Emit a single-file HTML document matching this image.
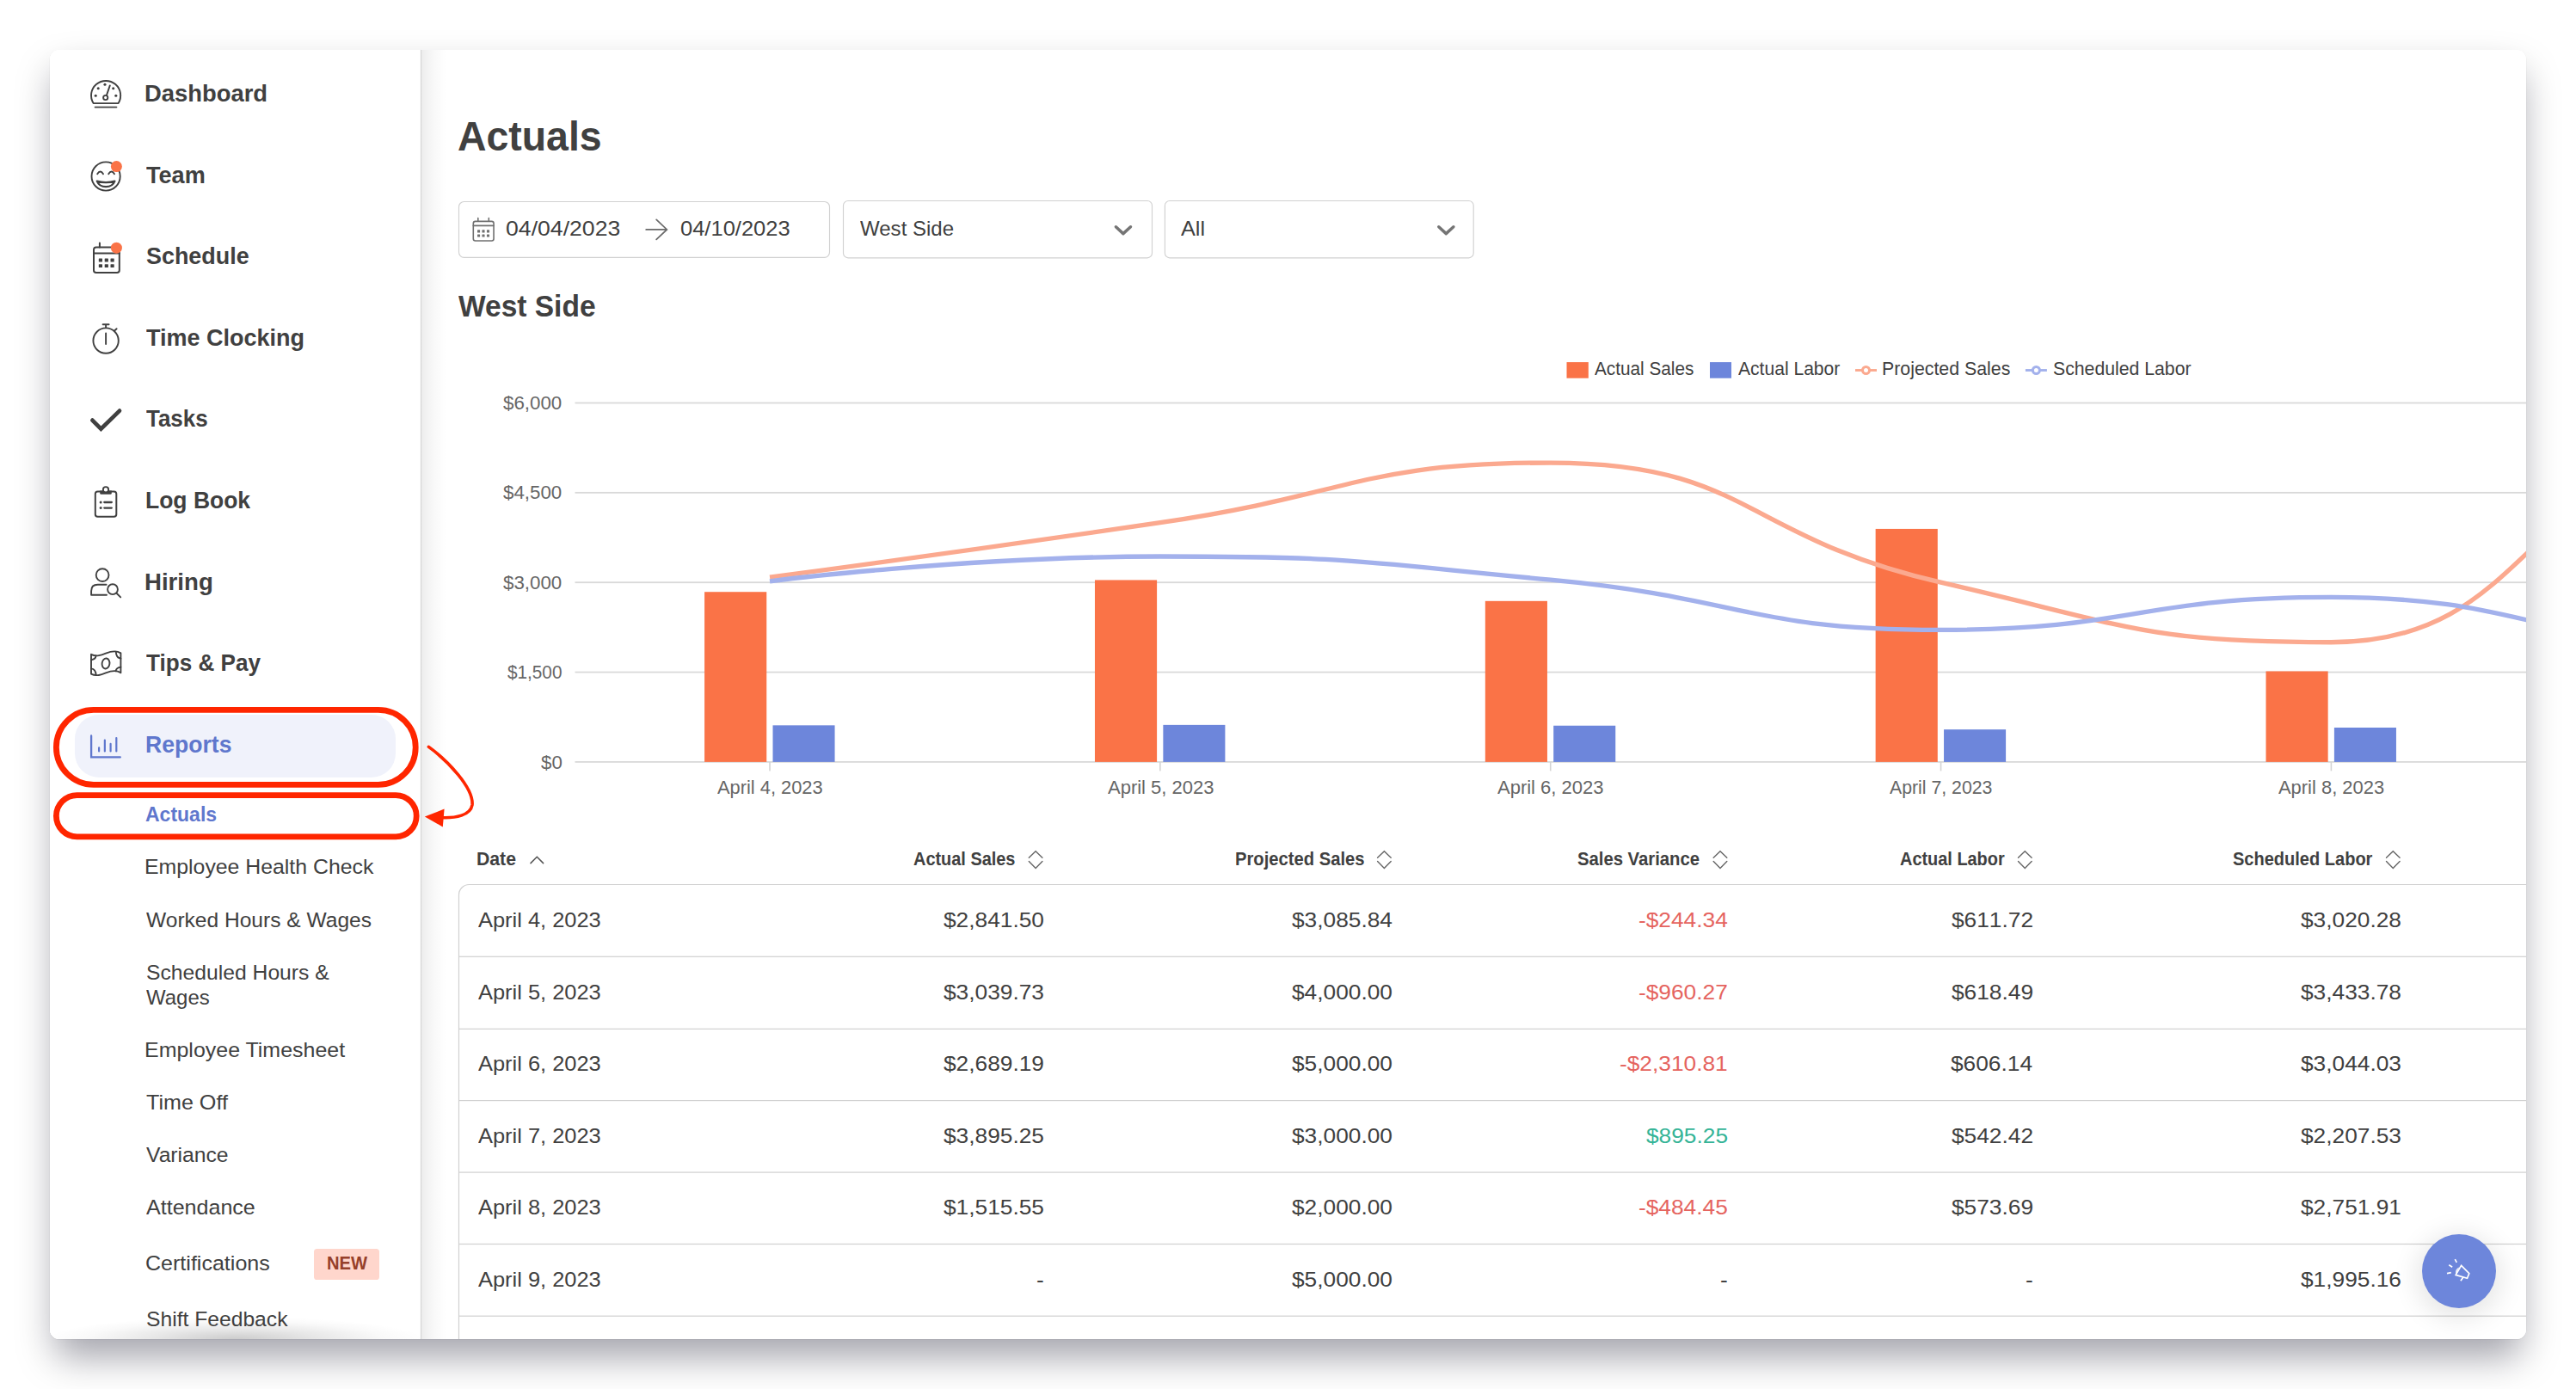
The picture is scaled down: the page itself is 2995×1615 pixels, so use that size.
<!DOCTYPE html><html lang="en"><head><meta charset="utf-8"><title>Actuals</title><style>
html,body{margin:0;padding:0}
body{width:2995px;height:1615px;background:#fff;position:relative;overflow:hidden;font-family:"Liberation Sans",sans-serif;color:#404040}
.shadow{position:absolute;left:64px;top:62px;width:2867px;height:1494.6px;border-radius:11px;background:#fff;
 box-shadow:0 21px 44px rgba(0,4,26,.36)}
.edge{position:absolute;left:58px;top:58px;width:2879px;height:1498.6px;border-radius:11px;background:#fff;box-shadow:0 .5px 0 .5px rgba(0,0,20,.05)}
.win{position:absolute;left:58px;top:58px;width:2879px;height:1498.6px;border-radius:11px;overflow:hidden;background:#fff}
.page{position:absolute;left:-58px;top:-58px;width:2995px;height:1615px}
.t{position:absolute;white-space:nowrap;line-height:1em;transform-origin:0 0;display:block}
.abs{position:absolute}
.side{left:58px;top:58px;width:431px;height:1499px;background:#fff}
.mainsh{left:490px;top:58px;width:30px;height:1499px;background:linear-gradient(to right,rgba(0,0,0,.072),rgba(0,0,0,.046) 24%,rgba(0,0,0,.022) 52%,rgba(0,0,0,.008) 80%,rgba(0,0,0,0))}
.sidebot{left:58px;top:1531px;width:431px;height:26px;background:radial-gradient(ellipse 51% 100% at 50% 100%,rgba(0,0,0,.20),rgba(0,0,0,.09) 45%,rgba(0,0,0,.025) 78%,rgba(0,0,0,0) 100%)}
.pill{left:87.2px;top:831px;width:372.8px;height:72.8px;border-radius:28px;background:#f0f2fb}
.badge{left:364.9px;top:1452px;width:76.2px;height:35.9px;border-radius:3.6px;background:#ffd6cc}
.fab{left:2815.8px;top:1435px;width:86.4px;height:86.4px;border-radius:50%;background:#6d86db;box-shadow:0 6px 30px 6px rgba(0,0,0,.10)}
</style></head><body>
<div class="shadow"></div><div class="edge"></div><div class="win"><div class="page">
<div class="abs mainsh"></div>
<div class="abs side"></div>
<svg class="abs" style="left:0;top:0" width="2995" height="1615"><rect x="488.9" y="58" width="1.25" height="1499" fill="#d7d7d7"/></svg>
<div class="abs sidebot"></div>
<div class="abs pill"></div>
<div class="abs badge"></div>
<svg class="chart" width="2995" height="1615" viewBox="0 0 2995 1615" style="position:absolute;left:0;top:0">
<rect x="668.5" y="885.00" width="3200" height="1.8" fill="#d9d9d9"/>
<rect x="668.5" y="780.65" width="3200" height="1.8" fill="#d9d9d9"/>
<rect x="668.5" y="676.30" width="3200" height="1.8" fill="#d9d9d9"/>
<rect x="668.5" y="571.95" width="3200" height="1.8" fill="#d9d9d9"/>
<rect x="668.5" y="467.60" width="3200" height="1.8" fill="#d9d9d9"/>
<rect x="894.20" y="885.90" width="1.6" height="10.5" fill="#d4d4d4"/>
<rect x="1348.05" y="885.90" width="1.6" height="10.5" fill="#d4d4d4"/>
<rect x="1801.90" y="885.90" width="1.6" height="10.5" fill="#d4d4d4"/>
<rect x="2255.75" y="885.90" width="1.6" height="10.5" fill="#d4d4d4"/>
<rect x="2709.60" y="885.90" width="1.6" height="10.5" fill="#d4d4d4"/>
<rect x="3163.45" y="885.90" width="1.6" height="10.5" fill="#d4d4d4"/>
<rect x="3617.30" y="885.90" width="1.6" height="10.5" fill="#d4d4d4"/>
<rect x="819.10" y="688.23" width="72.15" height="197.67" fill="#fa7347"/>
<rect x="1272.95" y="674.44" width="72.15" height="211.46" fill="#fa7347"/>
<rect x="1726.80" y="698.82" width="72.15" height="187.08" fill="#fa7347"/>
<rect x="2180.65" y="614.92" width="72.15" height="270.98" fill="#fa7347"/>
<rect x="2634.50" y="780.47" width="72.15" height="105.43" fill="#fa7347"/>
<rect x="898.50" y="843.34" width="72.05" height="42.56" fill="#6d86db"/>
<rect x="1352.35" y="842.87" width="72.05" height="43.03" fill="#6d86db"/>
<rect x="1806.20" y="843.73" width="72.05" height="42.17" fill="#6d86db"/>
<rect x="2260.05" y="848.17" width="72.05" height="37.73" fill="#6d86db"/>
<rect x="2713.90" y="845.99" width="72.05" height="39.91" fill="#6d86db"/>
<path d="M895.00,671.23C895.00,671.23 1122.14,640.89 1348.85,607.63C1575.99,574.31 1579.55,538.07 1802.70,538.07C2033.40,538.07 2025.85,624.16 2256.55,677.20C2479.70,728.51 2493.03,746.77 2710.40,746.77C2946.88,746.77 2931.54,538.07 3164.25,538.07C3385.39,538.07 3618.10,677.20 3618.10,677.20" fill="none" stroke="#fba98f" stroke-width="5.3" stroke-linejoin="round"/>
<path d="M895.00,675.79C895.00,675.79 1121.90,647.02 1348.85,647.02C1575.75,647.02 1576.50,652.88 1802.70,674.14C2030.35,695.53 2029.09,732.33 2256.55,732.33C2482.94,732.33 2483.84,694.46 2710.40,694.46C2937.69,694.46 2936.84,747.10 3164.25,747.10C3390.69,747.10 3618.10,715.46 3618.10,715.46" fill="none" stroke="#a3b1ec" stroke-width="5.3" stroke-linejoin="round"/>
<path d="M3400,1028.5H545.5A12,12 0 0 0 533.5,1040.5V1700" fill="none" stroke="#d0d0d0" stroke-width="1.2"/>
<rect x="534" y="1111.70" width="2900" height="1.2" fill="#d0d0d0"/>
<rect x="534" y="1195.80" width="2900" height="1.2" fill="#d0d0d0"/>
<rect x="534" y="1279.00" width="2900" height="1.2" fill="#d0d0d0"/>
<rect x="534" y="1362.50" width="2900" height="1.2" fill="#d0d0d0"/>
<rect x="534" y="1445.90" width="2900" height="1.2" fill="#d0d0d0"/>
<rect x="534" y="1529.60" width="2900" height="1.2" fill="#d0d0d0"/>
<rect x="1821.5" y="421.1" width="25.3" height="18.6" fill="#fa7347"/>
<rect x="1988" y="421.1" width="25" height="18.6" fill="#6d86db"/>
<path d="M2157.0,430.5H2182.0" stroke="#fba98f" stroke-width="2.9"/>
<circle cx="2169.5" cy="430.5" r="4" fill="#fff" stroke="#fba98f" stroke-width="3"/>
<path d="M2354.9,430.5H2379.9" stroke="#a3b1ec" stroke-width="2.9"/>
<circle cx="2367.4" cy="430.5" r="4" fill="#fff" stroke="#a3b1ec" stroke-width="3"/>
</svg>
<svg width="2995" height="1615" viewBox="0 0 2995 1615" style="position:absolute;left:0;top:0" fill="none" stroke-linecap="round" stroke-linejoin="round">
<g stroke="#404040" stroke-width="1.9">
<path d="M108.6,120.1 A17.1,17.1 0 1 1 137.6,120.1 Z"/>
<path d="M110.6,124.6H135.4"/>
<circle cx="122.7" cy="113.5" r="2.6"/>
<path d="M123.9,110.9L127.8,99.4"/>
</g>
<g fill="#404040"><circle cx="111.2" cy="111.3" r="1.55"/><circle cx="114.2" cy="102.8" r="1.55"/><circle cx="122.0" cy="98.2" r="1.55"/><circle cx="131.7" cy="102.8" r="1.55"/><circle cx="134.8" cy="111.3" r="1.55"/></g>
<g stroke="#404040" stroke-width="1.9">
<circle cx="123.1" cy="205" r="16.6"/>
<path d="M113.2,202.3 Q116.6,196.6 120,202.3"/>
<path d="M126.2,202.3 Q129.6,196.6 133,202.3"/>
<path d="M112.8,210.6 Q123.1,213.6 133.4,210.6 Q130.8,217.2 123.1,217.2 Q115.4,217.2 112.8,210.6Z" stroke-width="2.3"/>
</g>
<circle cx="135.4" cy="193.6" r="6.5" fill="#fa7347"/>
<g stroke="#404040" stroke-width="2">
<rect x="109" y="287.6" width="29.8" height="29.4" rx="2.8"/>
<path d="M109,294.4H138.8M115.9,282.6V287.4"/>
</g>
<g fill="#404040">
<rect x="114.8" y="300.6" width="4.2" height="3.8" rx="0.5"/>
<rect x="114.8" y="307.3" width="4.2" height="3.8" rx="0.5"/>
<rect x="121.7" y="300.6" width="4.2" height="3.8" rx="0.5"/>
<rect x="121.7" y="307.3" width="4.2" height="3.8" rx="0.5"/>
<rect x="128.5" y="300.6" width="4.2" height="3.8" rx="0.5"/>
<rect x="128.5" y="307.3" width="4.2" height="3.8" rx="0.5"/>
</g>
<circle cx="135.4" cy="288.2" r="6.5" fill="#fa7347"/>
<g stroke="#404040" stroke-width="1.9">
<circle cx="123.1" cy="396.1" r="14.7"/>
<path d="M119.6,377.2H126.6M123.1,377.2V381M123.1,387.4V400M133.4,384.3L135.6,382.2"/>
</g>
<path d="M107.4,488.6L117.4,498.6L139,477.6" stroke="#404040" stroke-width="4.7" stroke-linecap="round" stroke-linejoin="miter"/>
<g stroke="#404040" stroke-width="2">
<rect x="110.8" y="571.5" width="24.5" height="29.3" rx="2.8"/>
<circle cx="123" cy="569.4" r="3.1" fill="#fff"/>
<path d="M121.3,584H129.8M121.3,590.6H129.8" stroke-width="2.3"/>
</g>
<path d="M116.2,570.6H129.8V573.4Q129.8,574.8 128.4,574.8H117.6Q116.2,574.8 116.2,573.4Z" fill="#404040"/>
<circle cx="123" cy="569.4" r="2.1" fill="#fff"/>
<g fill="#404040"><circle cx="117.1" cy="584" r="1.5"/><circle cx="117.1" cy="590.6" r="1.5"/></g>
<g stroke="#404040" stroke-width="1.9">
<circle cx="119.1" cy="668.6" r="7.4"/>
<path d="M124,691.7H106.1V687.2Q106.1,679.8 113.6,679.8H123.6"/>
<circle cx="131" cy="685.2" r="5.9"/>
<path d="M135.5,689.8L140.2,694.4"/>
</g>
<g stroke="#404040" stroke-width="1.9">
<path d="M106,760.8C112,764 118,761.6 123,759.6C128,757.6 135,755.8 140.4,759.4V782.2C135,778.6 128,780.4 123,782.4C118,784.4 112,786.8 106,783.6Z"/>
<ellipse cx="123" cy="771.5" rx="4.4" ry="6" transform="rotate(8 123 771.5)"/>
<path d="M106,767.2Q111.2,766.6 111.6,762.4M140.4,765.6Q135,765 134.8,757.6M106,777.4Q111.4,778 111.6,785M140.4,775.6Q135.2,776.2 134.6,780.2"/>
</g>
<path d="M106.1,855.4V880.4H139.8" stroke="#5f77cd" stroke-width="2.3" stroke-linecap="round" stroke-linejoin="miter"/>
<path d="M115.1,869.4V873.4M121.85,860.5V873.4M128.6,864.9V873.4M135.3,858.1V873.4" stroke="#5f77cd" stroke-width="2.2" stroke-linecap="round"/>
</svg>
<svg width="2995" height="1615" viewBox="0 0 2995 1615" style="position:absolute;left:0;top:0" fill="none" stroke-linecap="round" stroke-linejoin="round">
<g stroke="#d1d1d1" stroke-width="1.15">
<rect x="533.5" y="234.5" width="431" height="64.8" rx="6"/>
<rect x="980.5" y="233.5" width="359" height="66.3" rx="5.5"/>
<rect x="1354.4" y="233.5" width="358.8" height="66.3" rx="5.5"/>
</g>
<!-- calendar icon in date box -->
<g stroke="#707070" stroke-width="1.6">
<rect x="550.3" y="257.4" width="23.75" height="22.6" rx="2.4"/>
<path d="M550.3,262.4H574M555.8,253.6V256.8M568.3,253.6V256.8"/>
</g>
<g fill="#707070">
<rect x="555" y="267.3" width="3.1" height="3.1" rx="0.5"/><rect x="560.45" y="267.3" width="3.1" height="3.1" rx="0.5"/><rect x="565.95" y="267.3" width="3.1" height="3.1" rx="0.5"/>
<rect x="555" y="272.5" width="3.1" height="3.1" rx="0.5"/><rect x="560.45" y="272.5" width="3.1" height="3.1" rx="0.5"/><rect x="565.95" y="272.5" width="3.1" height="3.1" rx="0.5"/>
</g>
<!-- arrow -->
<path d="M751.2,266.9H775.2M763.2,255.4L775.4,266.9L763.2,278.4" stroke="#6a6a6a" stroke-width="1.7" stroke-linejoin="miter"/>
<!-- chevrons -->
<path d="M1297.4,263.8L1305.9,271.6L1314.5,263.8" stroke="#757575" stroke-width="3.5" stroke-linecap="round" stroke-linejoin="round"/>
<path d="M1672.8,263.8L1681.3,271.6L1689.9,263.8" stroke="#757575" stroke-width="3.5" stroke-linecap="round" stroke-linejoin="round"/>
<!-- sort icons -->
<path d="M617,1003.6L624.3,996.2L631.6,1003.6" stroke="#555" stroke-width="1.5" stroke-linejoin="miter"/>
<g stroke="#666" stroke-width="1.4" stroke-linejoin="miter">
<path d="M1196.3,997.2L1204.1,989.65L1211.9,997.2M1196.3,1001.5L1204.1,1009.45L1211.9,1001.5"/>
<path d="M1601.6,997.2L1609.4,989.65L1617.2,997.2M1601.6,1001.5L1609.4,1009.45L1617.2,1001.5"/>
<path d="M1992.2,997.2L2000,989.65L2007.8,997.2M1992.2,1001.5L2000,1009.45L2007.8,1001.5"/>
<path d="M2346.5,997.2L2354.3,989.65L2362.1,997.2M2346.5,1001.5L2354.3,1009.45L2362.1,1001.5"/>
<path d="M2774.5,997.2L2782.3,989.65L2790.1,997.2M2774.5,1001.5L2782.3,1009.45L2790.1,1001.5"/>
</g>
</svg>

<div class="abs fab"></div>
<svg width="2995" height="1615" viewBox="0 0 2995 1615" style="position:absolute;left:0;top:0" fill="none" stroke="#fff" stroke-width="1.7" stroke-linecap="butt" stroke-linejoin="miter">
<path d="M2859.4,1473.2Q2853.4,1476 2855.4,1482.2Z" fill="#e4e9f8" stroke="none"/>
<path d="M2861.6,1471.4L2870.8,1480.6L2868.5,1486.3L2855.2,1482.4Z"/>
<path d="M2863.9,1484.9L2860.9,1489.3"/>
<path d="M2854.3,1464.2L2856.3,1467.9M2847.3,1470.7L2851.2,1473.2M2845,1480.6L2849.8,1479.6"/>
</svg>

<span class="t" style="left:168.49px;top:94.00px;font-size:28.5px;transform:scaleX(0.9611);font-weight:700;">Dashboard</span>
<span class="t" style="left:170.20px;top:189.00px;font-size:28.5px;transform:scaleX(0.9505);font-weight:700;">Team</span>
<span class="t" style="left:169.78px;top:283.00px;font-size:28.5px;transform:scaleX(0.9446);font-weight:700;">Schedule</span>
<span class="t" style="left:170.20px;top:378.00px;font-size:28.5px;transform:scaleX(0.9468);font-weight:700;">Time Clocking</span>
<span class="t" style="left:170.20px;top:472.00px;font-size:28.5px;transform:scaleX(0.9105);font-weight:700;">Tasks</span>
<span class="t" style="left:168.54px;top:567.00px;font-size:28.5px;transform:scaleX(0.9292);font-weight:700;">Log Book</span>
<span class="t" style="left:168.47px;top:662.00px;font-size:28.5px;transform:scaleX(0.9692);font-weight:700;">Hiring</span>
<span class="t" style="left:170.20px;top:756.00px;font-size:28.5px;transform:scaleX(0.9162);font-weight:700;">Tips &amp; Pay</span>
<span class="t" style="left:168.74px;top:851.00px;font-size:28.5px;transform:scaleX(0.9327);font-weight:700;color:#5f77cd;">Reports</span>
<span class="t" style="left:169.14px;top:935.00px;font-size:24.5px;transform:scaleX(0.9389);font-weight:700;color:#5f77cd;">Actuals</span>
<span class="t" style="left:168.46px;top:996.00px;font-size:24.5px;transform:scaleX(1.0134);">Employee Health Check</span>
<span class="t" style="left:170.40px;top:1058.00px;font-size:24.5px;transform:scaleX(1.0021);">Worked Hours &amp; Wages</span>
<span class="t" style="left:169.63px;top:1119.00px;font-size:24.5px;transform:scaleX(1.0078);">Scheduled Hours &amp;</span>
<span class="t" style="left:170.40px;top:1148.00px;font-size:24.5px;transform:scaleX(0.9789);">Wages</span>
<span class="t" style="left:168.45px;top:1209.00px;font-size:24.5px;transform:scaleX(1.0190);">Employee Timesheet</span>
<span class="t" style="left:170.01px;top:1270.00px;font-size:24.5px;transform:scaleX(1.0253);">Time Off</span>
<span class="t" style="left:170.40px;top:1331.00px;font-size:24.5px;transform:scaleX(1.0076);">Variance</span>
<span class="t" style="left:170.40px;top:1392.00px;font-size:24.5px;transform:scaleX(1.0230);">Attendance</span>
<span class="t" style="left:169.23px;top:1457.00px;font-size:24.5px;transform:scaleX(1.0223);">Certifications</span>
<span class="t" style="left:379.64px;top:1459.00px;font-size:21.5px;transform:scaleX(0.9385);font-weight:700;color:#96402a;">NEW</span>
<span class="t" style="left:169.63px;top:1522.00px;font-size:24.5px;transform:scaleX(1.0065);">Shift Feedback</span>
<span class="t" style="left:532.38px;top:134.00px;font-size:48.5px;transform:scaleX(0.9567);font-weight:700;">Actuals</span>
<span class="t" style="left:588.27px;top:254.00px;font-size:24.5px;transform:scaleX(1.0872);">04/04/2023</span>
<span class="t" style="left:790.60px;top:254.00px;font-size:24.5px;transform:scaleX(1.0409);">04/10/2023</span>
<span class="t" style="left:1000.00px;top:254.00px;font-size:24.5px;transform:scaleX(0.9808);">West Side</span>
<span class="t" style="left:1373.30px;top:254.00px;font-size:24.5px;transform:scaleX(1.0307);">All</span>
<span class="t" style="left:533.10px;top:339.00px;font-size:34.5px;transform:scaleX(0.9713);font-weight:700;">West Side</span>
<span class="t" style="left:1854.20px;top:418.00px;font-size:22.0px;transform:scaleX(0.9432);">Actual Sales</span>
<span class="t" style="left:2020.70px;top:418.00px;font-size:22.0px;transform:scaleX(0.9577);">Actual Labor</span>
<span class="t" style="left:2187.73px;top:418.00px;font-size:22.0px;transform:scaleX(0.9691);">Projected Sales</span>
<span class="t" style="left:2387.04px;top:418.00px;font-size:22.0px;transform:scaleX(0.9652);">Scheduled Labor</span>
<span class="t" style="left:628.80px;top:877.00px;font-size:21.5px;transform:scaleX(1.0351);color:#666666;">$0</span>
<span class="t" style="left:590.10px;top:772.00px;font-size:21.5px;transform:scaleX(0.9644);color:#666666;">$1,500</span>
<span class="t" style="left:585.30px;top:668.00px;font-size:21.5px;transform:scaleX(1.0380);color:#666666;">$3,000</span>
<span class="t" style="left:585.30px;top:563.00px;font-size:21.5px;transform:scaleX(1.0380);color:#666666;">$4,500</span>
<span class="t" style="left:585.30px;top:459.00px;font-size:21.5px;transform:scaleX(1.0380);color:#666666;">$6,000</span>
<span class="t" style="left:833.90px;top:906.00px;font-size:21.5px;transform:scaleX(1.0155);color:#666666;">April 4, 2023</span>
<span class="t" style="left:1287.50px;top:906.00px;font-size:21.5px;transform:scaleX(1.0230);color:#666666;">April 5, 2023</span>
<span class="t" style="left:1741.10px;top:906.00px;font-size:21.5px;transform:scaleX(1.0230);color:#666666;">April 6, 2023</span>
<span class="t" style="left:2196.80px;top:906.00px;font-size:21.5px;transform:scaleX(0.9888);color:#666666;">April 7, 2023</span>
<span class="t" style="left:2649.20px;top:906.00px;font-size:21.5px;transform:scaleX(1.0196);color:#666666;">April 8, 2023</span>
<span class="t" style="left:3103.05px;top:906.00px;font-size:21.5px;transform:scaleX(1.0213);color:#666666;">April 9, 2023</span>
<span class="t" style="left:554.27px;top:989.00px;font-size:21.5px;transform:scaleX(0.9861);font-weight:700;">Date</span>
<span class="t" style="left:1062.19px;top:989.00px;font-size:21.5px;transform:scaleX(0.9261);font-weight:700;">Actual Sales</span>
<span class="t" style="left:1435.64px;top:989.00px;font-size:21.5px;transform:scaleX(0.9397);font-weight:700;">Projected Sales</span>
<span class="t" style="left:1834.38px;top:989.00px;font-size:21.5px;transform:scaleX(0.9429);font-weight:700;">Sales Variance</span>
<span class="t" style="left:2208.69px;top:989.00px;font-size:21.5px;transform:scaleX(0.9261);font-weight:700;">Actual Labor</span>
<span class="t" style="left:2596.49px;top:989.00px;font-size:21.5px;transform:scaleX(0.9311);font-weight:700;">Scheduled Labor</span>
<span class="t" style="left:556.10px;top:1058.00px;font-size:24.5px;transform:scaleX(1.0376);">April 4, 2023</span>
<span class="t" style="left:1096.50px;top:1058.00px;font-size:24.5px;transform:scaleX(1.0730);font-kerning:none;">$2,841.50</span>
<span class="t" style="left:1501.50px;top:1058.00px;font-size:24.5px;transform:scaleX(1.0730);font-kerning:none;">$3,085.84</span>
<span class="t" style="left:1904.77px;top:1058.00px;font-size:24.5px;transform:scaleX(1.0730);color:#e5645f;font-kerning:none;">-$244.34</span>
<span class="t" style="left:2268.74px;top:1058.00px;font-size:24.5px;transform:scaleX(1.0730);font-kerning:none;">$611.72</span>
<span class="t" style="left:2674.81px;top:1058.00px;font-size:24.5px;transform:scaleX(1.0730);font-kerning:none;">$3,020.28</span>
<span class="t" style="left:556.10px;top:1142.00px;font-size:24.5px;transform:scaleX(1.0376);">April 5, 2023</span>
<span class="t" style="left:1096.91px;top:1142.00px;font-size:24.5px;transform:scaleX(1.0730);font-kerning:none;">$3,039.73</span>
<span class="t" style="left:1501.50px;top:1142.00px;font-size:24.5px;transform:scaleX(1.0730);font-kerning:none;">$4,000.00</span>
<span class="t" style="left:1905.18px;top:1142.00px;font-size:24.5px;transform:scaleX(1.0730);color:#e5645f;font-kerning:none;">-$960.27</span>
<span class="t" style="left:2268.74px;top:1142.00px;font-size:24.5px;transform:scaleX(1.0730);font-kerning:none;">$618.49</span>
<span class="t" style="left:2674.81px;top:1142.00px;font-size:24.5px;transform:scaleX(1.0730);font-kerning:none;">$3,433.78</span>
<span class="t" style="left:556.10px;top:1225.00px;font-size:24.5px;transform:scaleX(1.0376);">April 6, 2023</span>
<span class="t" style="left:1096.91px;top:1225.00px;font-size:24.5px;transform:scaleX(1.0730);font-kerning:none;">$2,689.19</span>
<span class="t" style="left:1501.50px;top:1225.00px;font-size:24.5px;transform:scaleX(1.0730);font-kerning:none;">$5,000.00</span>
<span class="t" style="left:1883.26px;top:1225.00px;font-size:24.5px;transform:scaleX(1.0730);color:#e5645f;font-kerning:none;">-$2,310.81</span>
<span class="t" style="left:2268.32px;top:1225.00px;font-size:24.5px;transform:scaleX(1.0730);font-kerning:none;">$606.14</span>
<span class="t" style="left:2674.81px;top:1225.00px;font-size:24.5px;transform:scaleX(1.0730);font-kerning:none;">$3,044.03</span>
<span class="t" style="left:556.10px;top:1309.00px;font-size:24.5px;transform:scaleX(1.0376);">April 7, 2023</span>
<span class="t" style="left:1096.91px;top:1309.00px;font-size:24.5px;transform:scaleX(1.0730);font-kerning:none;">$3,895.25</span>
<span class="t" style="left:1501.50px;top:1309.00px;font-size:24.5px;transform:scaleX(1.0730);font-kerning:none;">$3,000.00</span>
<span class="t" style="left:1913.94px;top:1309.00px;font-size:24.5px;transform:scaleX(1.0730);color:#35b497;font-kerning:none;">$895.25</span>
<span class="t" style="left:2268.74px;top:1309.00px;font-size:24.5px;transform:scaleX(1.0730);font-kerning:none;">$542.42</span>
<span class="t" style="left:2674.81px;top:1309.00px;font-size:24.5px;transform:scaleX(1.0730);font-kerning:none;">$2,207.53</span>
<span class="t" style="left:556.10px;top:1392.00px;font-size:24.5px;transform:scaleX(1.0376);">April 8, 2023</span>
<span class="t" style="left:1096.91px;top:1392.00px;font-size:24.5px;transform:scaleX(1.0730);font-kerning:none;">$1,515.55</span>
<span class="t" style="left:1501.50px;top:1392.00px;font-size:24.5px;transform:scaleX(1.0730);font-kerning:none;">$2,000.00</span>
<span class="t" style="left:1905.18px;top:1392.00px;font-size:24.5px;transform:scaleX(1.0730);color:#e5645f;font-kerning:none;">-$484.45</span>
<span class="t" style="left:2268.74px;top:1392.00px;font-size:24.5px;transform:scaleX(1.0730);font-kerning:none;">$573.69</span>
<span class="t" style="left:2674.81px;top:1392.00px;font-size:24.5px;transform:scaleX(1.0730);font-kerning:none;">$2,751.91</span>
<span class="t" style="left:556.10px;top:1476.00px;font-size:24.5px;transform:scaleX(1.0376);">April 9, 2023</span>
<span class="t" style="left:1205.00px;top:1476.00px;font-size:24.5px;transform:scaleX(1.0730);font-kerning:none;">-</span>
<span class="t" style="left:1501.50px;top:1476.00px;font-size:24.5px;transform:scaleX(1.0730);font-kerning:none;">$5,000.00</span>
<span class="t" style="left:2000.10px;top:1476.00px;font-size:24.5px;transform:scaleX(1.0730);font-kerning:none;">-</span>
<span class="t" style="left:2354.90px;top:1476.00px;font-size:24.5px;transform:scaleX(1.0730);font-kerning:none;">-</span>
<span class="t" style="left:2674.81px;top:1476.00px;font-size:24.5px;transform:scaleX(1.0730);font-kerning:none;">$1,995.16</span>
</div></div>
<svg width="2995" height="1615" viewBox="0 0 2995 1615" style="position:absolute;left:0;top:0" fill="none">
<rect x="65.4" y="825.4" width="417.8" height="87" rx="43.5" stroke="#ff2600" stroke-width="6.8"/>
<rect x="65.4" y="924.6" width="418.8" height="48.2" rx="24.1" stroke="#ff2600" stroke-width="6.8"/>
<path d="M498.4,868.4C520,884 551,916 549,936C547,948 530,951.5 512,950.6" stroke="#ff2600" stroke-width="3.6" stroke-linecap="round"/>
<path d="M493.8,949.4L516.6,940.6L514.8,961.4Z" fill="#ff2600"/>
</svg>

</body></html>
